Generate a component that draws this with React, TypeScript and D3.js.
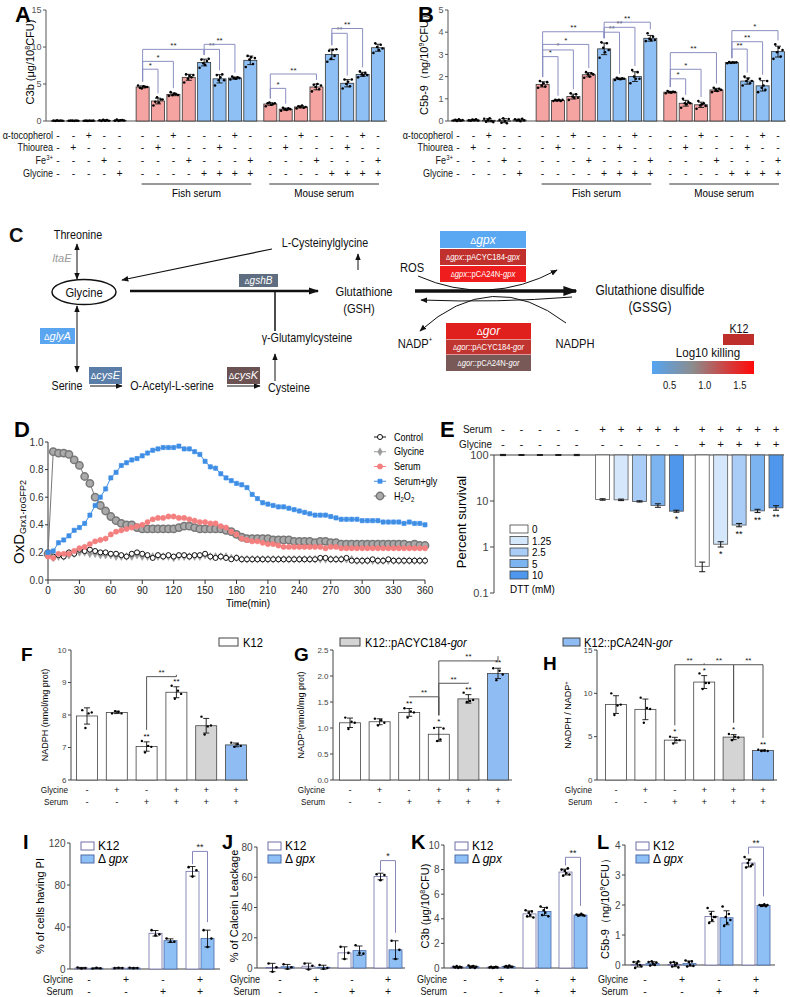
import React from 'react';
import * as d3 from 'd3';

const FONT = '"Liberation Sans", Arial, sans-serif';
const BOLD = '"Liberation Sans", Arial, sans-serif';
const PINK = '#f5a4a2';
const BLUE = '#8ec0f5';

// ---------- A / B : complement deposition ----------
const abGroup = [0, 0, 0, 0, 0, 1, 1, 1, 1, 1, 1, 1, 1, 2, 2, 2, 2, 2, 2, 2, 2];
const abGap = [0, 0.5, 0.8];
const tocoRow = [0, 0, 1, 0, 0, 0, 0, 1, 0, 0, 0, 1, 0, 0, 0, 1, 0, 0, 0, 1, 0];
const thioRow = [0, 1, 0, 0, 0, 0, 1, 0, 0, 0, 1, 0, 0, 0, 1, 0, 0, 0, 1, 0, 0];
const feRow = [0, 0, 0, 1, 0, 0, 0, 0, 1, 0, 0, 0, 1, 0, 0, 0, 1, 0, 0, 0, 1];
const glyRowAB = [0, 0, 0, 0, 1, 0, 0, 0, 0, 1, 1, 1, 1, 0, 0, 0, 0, 1, 1, 1, 1];

const c3bReps = [
  [0.05, 0.02, 0.08, 0.04, 0.06, 0.03], [0.03, 0.06, 0.05, 0.02, 0.07, 0.04],
  [0.04, 0.05, 0.02, 0.06, 0.03, 0.05], [0.1, 0.02, 0.15, 0.05, 0.12, 0.04],
  [0.05, 0.18, 0.02, 0.1, 0.12, 0.06],
  [4.8, 4.5, 4.4, 4.7, 4.6, 4.6], [2.1, 2.6, 3.2, 2.5, 2.9, 2.9],
  [3.4, 3.9, 3.5, 3.7, 3.6, 3.5], [5.2, 6.3, 5.7, 6.1, 5.9, 6.2],
  [7.2, 8.3, 7.8, 7.6, 8.1, 8.4], [4.8, 6.2, 5.5, 5.9, 6.3, 5.5],
  [5.6, 6.0, 5.8, 5.7, 5.9, 5.8], [7.3, 8.8, 8.3, 8.6, 7.7, 8.5],
  [2.0, 2.4, 2.5, 2.2, 2.3, 2.4], [1.4, 1.8, 1.6, 1.5, 1.7, 1.6],
  [1.7, 2.0, 1.9, 2.1, 1.8, 1.9], [4.0, 4.9, 4.6, 5.0, 4.3, 4.8],
  [8.0, 9.5, 8.4, 9.6, 8.8, 9.7], [4.4, 5.6, 5.0, 5.3, 4.7, 5.6],
  [5.9, 6.7, 6.3, 6.2, 6.5, 6.2], [9.2, 10.5, 10.0, 9.6, 10.3, 9.8],
];
const c5b9Reps = [
  [0.02, 0.05, 0.0, 0.08, 0.01, 0.04], [0.03, 0.01, 0.06, 0.04, 0.08, 0.02],
  [0.1, -0.03, 0.05, 0.12, 0.0, -0.05], [0.05, -0.08, 0.12, 0.0, -0.1, 0.09],
  [0.08, 0.02, 0.05, -0.01, 0.1, 0.03],
  [1.5, 1.8, 1.6, 1.7, 1.55, 1.75], [0.9, 0.95, 0.92, 0.96, 0.9, 0.95],
  [0.95, 1.25, 1.1, 1.05, 1.2, 1.05], [1.95, 2.2, 2.1, 2.0, 2.15, 2.1],
  [2.85, 3.55, 3.3, 3.1, 3.5, 3.2], [1.85, 1.95, 1.9, 1.88, 1.92, 1.9],
  [1.7, 2.3, 2.0, 1.9, 2.2, 1.9], [3.6, 3.95, 3.7, 3.65, 3.8, 3.65],
  [1.25, 1.35, 1.3, 1.28, 1.32, 1.3], [0.6, 1.0, 0.8, 0.75, 0.85, 0.8],
  [0.55, 0.9, 0.7, 0.75, 0.8, 0.68], [1.3, 1.5, 1.4, 1.35, 1.45, 1.4],
  [2.6, 2.65, 2.62, 2.64, 2.63, 2.64], [1.6, 2.0, 1.8, 1.9, 1.7, 1.8],
  [1.3, 1.9, 1.5, 1.6, 1.4, 1.8], [2.8, 3.45, 3.1, 3.3, 2.9, 3.2],
];
const sigA = [
  { a: 5, b: 6, at: 7.0, s: '*' }, { a: 5, b: 7, at: 8.06, s: '*' }, { a: 5, b: 9, at: 9.68, s: '**' },
  { a: 9, b: 10, at: 9.68, s: '**' }, { a: 9, b: 11, at: 10.36, s: '**' },
  { a: 13, b: 14, at: 4.41, s: '*' }, { a: 13, b: 16, at: 6.35, s: '**' },
  { a: 17, b: 18, at: 11.85, s: '**' }, { a: 17, b: 19, at: 12.5, s: '**' },
];
const sigB = [
  { a: 5, b: 6, at: 2.9, s: '*' }, { a: 5, b: 7, at: 3.2, s: '*' }, { a: 5, b: 8, at: 3.45, s: '*' },
  { a: 5, b: 9, at: 4.02, s: '**' }, { a: 9, b: 10, at: 4.0, s: '**' }, { a: 9, b: 11, at: 4.22, s: '**' },
  { a: 9, b: 12, at: 4.45, s: '**' }, { a: 13, b: 14, at: 1.9, s: '*' }, { a: 13, b: 15, at: 2.33, s: '*' },
  { a: 13, b: 16, at: 3.08, s: '**' }, { a: 17, b: 18, at: 3.24, s: '**' }, { a: 17, b: 19, at: 3.57, s: '**' },
  { a: 17, b: 20, at: 4.07, s: '*' },
];

// ---------- C : pathway heat legend ----------
const killTicks = [0.5, 1.0, 1.5];

// ---------- D : OxD time course ----------
const oxdTimes = d3.range(0, 361, 5);
const oxdTicks = d3.range(0, 361, 30);
const oxdControl = [0.20, 0.17, 0.18, 0.17, 0.20, 0.19, 0.22, 0.21, 0.22, 0.21, 0.20, 0.20, 0.19, 0.19, 0.18, 0.17, 0.19, 0.20, 0.19, 0.18, 0.16, 0.18, 0.17, 0.18, 0.17, 0.18, 0.18, 0.17, 0.18, 0.18, 0.19, 0.17, 0.16, 0.17, 0.16, 0.15, 0.16, 0.15, 0.15, 0.15, 0.15, 0.15, 0.15, 0.15, 0.15, 0.15, 0.15, 0.15, 0.15, 0.15, 0.15, 0.15, 0.16, 0.16, 0.15, 0.15, 0.15, 0.16, 0.14, 0.14, 0.14, 0.14, 0.15, 0.14, 0.14, 0.15, 0.14, 0.14, 0.14, 0.14, 0.14, 0.14, 0.14];
const oxdGlycine = [0.18, 0.16, 0.17, 0.17, 0.18, 0.19, 0.20, 0.20, 0.19, 0.19, 0.18, 0.18, 0.18, 0.17, 0.17, 0.17, 0.17, 0.18, 0.17, 0.17, 0.17, 0.17, 0.17, 0.17, 0.16, 0.17, 0.17, 0.17, 0.17, 0.17, 0.18, 0.17, 0.17, 0.17, 0.17, 0.16, 0.16, 0.15, 0.15, 0.15, 0.15, 0.15, 0.15, 0.15, 0.15, 0.15, 0.15, 0.15, 0.15, 0.15, 0.15, 0.15, 0.15, 0.15, 0.15, 0.15, 0.15, 0.15, 0.15, 0.14, 0.14, 0.14, 0.14, 0.14, 0.14, 0.14, 0.14, 0.14, 0.14, 0.14, 0.14, 0.14, 0.14];
const oxdSerum = [0.17, 0.16, 0.19, 0.19, 0.19, 0.21, 0.23, 0.24, 0.26, 0.28, 0.29, 0.30, 0.33, 0.35, 0.36, 0.37, 0.38, 0.39, 0.40, 0.42, 0.44, 0.45, 0.45, 0.46, 0.46, 0.45, 0.45, 0.44, 0.43, 0.42, 0.42, 0.41, 0.41, 0.39, 0.38, 0.35, 0.33, 0.30, 0.29, 0.28, 0.28, 0.27, 0.26, 0.26, 0.25, 0.24, 0.24, 0.24, 0.24, 0.24, 0.24, 0.24, 0.24, 0.23, 0.24, 0.24, 0.23, 0.23, 0.23, 0.23, 0.23, 0.23, 0.23, 0.23, 0.23, 0.23, 0.23, 0.23, 0.23, 0.23, 0.23, 0.23, 0.23];
const oxdSerumGly = [0.20, 0.21, 0.27, 0.29, 0.32, 0.36, 0.38, 0.41, 0.47, 0.54, 0.60, 0.66, 0.74, 0.78, 0.83, 0.85, 0.87, 0.88, 0.90, 0.92, 0.94, 0.95, 0.96, 0.96, 0.96, 0.97, 0.95, 0.95, 0.93, 0.91, 0.86, 0.82, 0.81, 0.77, 0.74, 0.72, 0.70, 0.69, 0.67, 0.62, 0.59, 0.56, 0.55, 0.54, 0.53, 0.53, 0.52, 0.51, 0.50, 0.49, 0.48, 0.47, 0.47, 0.47, 0.46, 0.45, 0.44, 0.44, 0.44, 0.44, 0.43, 0.43, 0.43, 0.43, 0.42, 0.42, 0.42, 0.42, 0.41, 0.42, 0.41, 0.41, 0.40];
const oxdH2O2 = [0.19, 0.93, 0.92, 0.92, 0.91, 0.87, 0.83, 0.75, 0.70, 0.60, 0.54, 0.50, 0.46, 0.43, 0.41, 0.40, 0.40, 0.38, 0.37, 0.37, 0.37, 0.37, 0.37, 0.37, 0.37, 0.38, 0.39, 0.39, 0.38, 0.37, 0.37, 0.37, 0.37, 0.37, 0.36, 0.35, 0.33, 0.31, 0.30, 0.30, 0.30, 0.30, 0.30, 0.29, 0.29, 0.29, 0.29, 0.28, 0.28, 0.28, 0.28, 0.27, 0.28, 0.28, 0.27, 0.27, 0.26, 0.26, 0.26, 0.26, 0.26, 0.26, 0.26, 0.26, 0.26, 0.26, 0.26, 0.26, 0.26, 0.25, 0.26, 0.25, 0.25];
const oxdNames = ['Control', 'Glycine', 'Serum', 'Serum+gly', 'H2O2'];
const oxdErr = [0.012, 0.015, 0.015, 0.018, 0.012];

// ---------- E : DTT survival ----------
const eGroup = [0, 0, 0, 0, 0, 1, 1, 1, 1, 1, 2, 2, 2, 2, 2];
const eGap = [0, 0.4, 0.8];
const dttLevels = ['0', '1.25', '2.5', '5', '10'];
const dttColors = ['#ffffff', '#d5e7fb', '#a9cdf6', '#7cb4f1', '#4e97ec'];
const survival = [100, 100, 100, 100, 100, 10.8, 10.6, 9.8, 8.0, 6.0, 0.38, 1.15, 3.0, 6.1, 7.1];
const survivalSd = [3, 2, 2, 2, 3, 0.4, 0.4, 0.3, 0.7, 0.3, 0.09, 0.15, 0.25, 0.5, 0.8];
const survivalStars = ['', '', '', '', '', '', '', '', '', '*', '', '*', '**', '**', '**'];
const eSerum = [0, 0, 0, 0, 0, 1, 1, 1, 1, 1, 1, 1, 1, 1, 1];
const eGly = [0, 0, 0, 0, 0, 0, 0, 0, 0, 0, 1, 1, 1, 1, 1];

// ---------- F / G / H : NADPH ----------
const fghGly = [0, 1, 0, 1, 1, 1];
const fghSerum = [0, 0, 1, 1, 1, 1];
const fghFills = ['#ffffff', '#ffffff', '#ffffff', '#ffffff', '#d4d4d4', '#8ebcf3'];
const nadphReps = [[8.15, 7.6, 8.05, 8.08], [8.05, 8.12, 8.1, 8.05], [7.2, 6.85, 7.05, 7.02], [8.9, 8.5, 8.75, 8.65], [7.95, 7.4, 7.65, 7.68], [7.15, 7.02, 7.1, 7.05]];
const nadpReps = [[1.2, 0.98, 1.12, 1.1], [1.18, 1.05, 1.15, 1.1], [1.38, 1.2, 1.32, 1.3], [1.0, 0.75, 0.78, 0.99], [1.68, 1.5, 1.52, 1.54], [2.15, 1.92, 2.1, 2.03]];
const ratioReps = [[10.0, 7.5, 8.6, 8.7], [9.5, 6.6, 8.3, 8.2], [5.0, 4.2, 4.6, 4.6], [12.3, 10.5, 11.2, 11.2], [5.3, 4.6, 5.0, 4.9], [3.5, 3.35, 3.4, 3.35]];
const nadphStars = ['', '', '**', '**', '', ''];
const nadpStars = ['', '', '**', '*', '**', '**'];
const ratioStars = ['', '', '*', '*', '*', '**'];
const nadphSig = [{ a: 2, b: 3, at: 9.18, s: '**' }];
const nadpSig = [{ a: 2, b: 3, at: 1.6, s: '**' }, { a: 3, b: 4, at: 1.86, s: '**' }, { a: 3, b: 5, at: 2.29, s: '**' }];
const ratioSig = [{ a: 2, b: 3, at: 13.3, s: '**' }, { a: 3, b: 4, at: 13.3, s: '**' }, { a: 4, b: 5, at: 13.3, s: '**' }];

// ---------- I - L : gpx ----------
const ilGly = [0, 1, 0, 1];
const ilSerum = [0, 0, 1, 1];
const piK12 = [[1.5, 0.5, 1.0], [0.8, 1.2, 1.0], [37, 32, 33], [97, 88, 94]];
const piGpx = [[0.5, 1.2, 0.7], [1.2, 0.8, 1.0], [29, 26, 26], [37, 21, 29]];
const calceinK12 = [[3, -2.5, 0.5], [3, -1, 1.5], [14, 6, 10], [62, 58, 61.5]];
const calceinGpx = [[2.5, -0.5, 0.5], [2, -0.5, 0], [15, 10, 9.5], [18, 6, 12]];
const c3bK12 = [[0.1, 0.05, 0.15, 0.0, 0.1, 0.05], [0.05, 0.1, 0.0, 0.05, 0.1, 0.05], [4.7, 4.2, 4.5, 4.3, 4.6, 4.1], [8.0, 7.5, 7.9, 7.7, 8.1, 7.6]];
const c3bGpx = [[0.2, 0.05, 0.1, 0.15, 0.0, 0.1], [0.1, 0.15, 0.05, 0.2, 0.1, 0.1], [5.0, 4.3, 4.7, 4.5, 4.9, 4.2], [4.35, 4.25, 4.3, 4.4, 4.3, 4.25]];
const c5bK12 = [[0.1, -0.1, 0.05, 0.12, 0.0, -0.05], [0.08, -0.05, 0.1, 0.0, 0.05, -0.08], [1.9, 1.4, 1.7, 1.5, 1.6, 1.6], [3.6, 3.25, 3.4, 3.5, 3.3, 3.35]];
const c5bGpx = [[0.1, -0.02, 0.12, 0.05, 0.0, 0.08], [0.15, -0.05, 0.1, 0.0, 0.12, -0.03], [1.95, 1.3, 1.6, 1.4, 1.7, 1.5], [2.0, 1.97, 1.98, 2.02, 1.96, 2.0]];

// ---------------- helpers ----------------
const mean = (r: number[]) => d3.mean(r) as number;
const sd = (r: number[]) => d3.deviation(r) || 0;

// narrow text (the figure uses a condensed face)
function NT({ x, y, sx = 0.86, children, ...rest }: any) {
  return <text transform={`translate(${x},${y}) scale(${sx},1)`} {...rest}>{children}</text>;
}

function YAxis({ x, y, ticks, fmt = (t: number) => String(t), len = 3, fs = 9, color = '#555' }: any) {
  const [r0, r1] = y.range();
  return (
    <g>
      <line x1={x} x2={x} y1={r0} y2={r1} stroke={color} strokeWidth={1} />
      {ticks.map((t: number) => (
        <g key={t}>
          <line x1={x - len} x2={x} y1={y(t)} y2={y(t)} stroke={color} />
          <text x={x - len - 1.5} y={y(t)} dy="0.35em" textAnchor="end" fontSize={fs} fill={color}>{fmt(t)}</text>
        </g>
      ))}
    </g>
  );
}

function RepBars({ xs, reps, y, base, width, fills, stroke = '#222', dotR = 1.3, spread = 0.7 }: any) {
  return (
    <g>
      {reps.map((r: number[], i: number) => {
        const m = mean(r), s = sd(r), x = xs[i];
        const t = y(m), b = y(base), n = r.length;
        const step = n > 1 ? (width * spread) / (n - 1) : 0;
        return (
          <g key={i}>
            <rect x={x - width / 2} y={Math.min(t, b)} width={width} height={Math.max(0.6, Math.abs(b - t))} fill={fills[i]} stroke={stroke} strokeWidth={0.8} />
            <line x1={x} x2={x} y1={y(m - s)} y2={y(m + s)} stroke="#111" strokeWidth={0.9} />
            <line x1={x - 3} x2={x + 3} y1={y(m + s)} y2={y(m + s)} stroke="#111" strokeWidth={0.9} />
            <line x1={x - 3} x2={x + 3} y1={y(m - s)} y2={y(m - s)} stroke="#111" strokeWidth={0.9} />
            {r.map((v, k) => (
              <circle key={k} cx={x + (k - (n - 1) / 2) * step} cy={y(v)} r={dotR} fill="#000" />
            ))}
          </g>
        );
      })}
    </g>
  );
}

function Bracket({ x1, x2, yl, yb1, yb2, label, color = '#8a8fc2', fs = 8 }: any) {
  return (
    <g>
      <path d={`M${x1},${yb1}V${yl}H${x2}V${yb2}`} fill="none" stroke={color} strokeWidth={1} />
      <text x={(x1 + x2) / 2} y={yl - 1.5} textAnchor="middle" fontSize={fs} fill="#222">{label}</text>
    </g>
  );
}

function SignRow({ xs, signs, y, label, labelX, fs = 10 }: any) {
  return (
    <g fontSize={fs} fill="#111">
      <NT x={labelX} y={y} dy="0.35em" textAnchor="end">{label}</NT>
      {signs.map((s: number, i: number) => (
        <text key={i} x={xs[i]} y={y} dy="0.35em" textAnchor="middle">{s ? '+' : '-'}</text>
      ))}
    </g>
  );
}

function Letter({ x, y, t, fs = 20 }: any) {
  return <text x={x} y={y} fontSize={fs} fontWeight="bold" fontFamily={BOLD}>{t}</text>;
}

// ---------------- panels ----------------
function ComplementPanel({ reps, sig, range, domainMax, ticks, axisX, axisEnd, ylabel, ylabelX, letter, letterX }: any) {
  const slots = abGroup.map((g, i) => i + abGap[g]);
  const x = d3.scaleLinear().domain([0, 20.8]).range(range);
  const xs = slots.map((s) => x(s));
  const y = d3.scaleLinear().domain([0, domainMax]).range([121, 10]);
  const fills = abGroup.map((g, i) => (g === 0 ? '#ffffff' : glyRowAB[i] ? BLUE : PINK));
  const top = (i: number) => y(d3.max(reps[i]) as number) - 4;
  const lab = xs[0] - 5;
  return (
    <g>
      <Letter x={letterX} y={22} t={letter} fs={22} />
      <YAxis x={axisX} y={y} ticks={ticks} fs={9} />
      <line x1={axisX} x2={axisEnd} y1={y(0)} y2={y(0)} stroke="#555" />
      <RepBars xs={xs} reps={reps} y={y} base={0} width={13} fills={fills} stroke="#333" dotR={1.3} />
      {sig.map((s: any, k: number) => (
        <Bracket key={k} x1={xs[s.a]} x2={xs[s.b]} yl={y(s.at)} yb1={top(s.a)} yb2={top(s.b)} label={s.s} />
      ))}
      <NT x={ylabelX} y={62} sx={1} transform={`translate(${ylabelX},62) rotate(-90)`} textAnchor="middle" fontSize={11}>{ylabel}</NT>
      <SignRow xs={xs} signs={tocoRow} y={135} label="α-tocopherol" labelX={lab} fs={10.5} />
      <SignRow xs={xs} signs={thioRow} y={147} label="Thiourea" labelX={lab} fs={10.5} />
      <SignRow xs={xs} signs={feRow} y={160} label={<><tspan>Fe</tspan><tspan dy={-4} fontSize={7}>3+</tspan></>} labelX={lab} fs={10.5} />
      <SignRow xs={xs} signs={glyRowAB} y={173} label="Glycine" labelX={lab} fs={10.5} />
      <line x1={xs[5] - 1} x2={xs[12] + 1} y1={184} y2={184} stroke="#333" />
      <line x1={xs[13] - 1} x2={xs[20] + 1} y1={184} y2={184} stroke="#333" />
      <NT x={(xs[5] + xs[12]) / 2} y={197} textAnchor="middle" fontSize={11.5}>Fish serum</NT>
      <NT x={(xs[13] + xs[20]) / 2} y={197} textAnchor="middle" fontSize={11.5}>Mouse serum</NT>
    </g>
  );
}

function PanelC() {
  const kx = d3.scaleLinear().domain([0.25, 1.7]).range([652, 754]);
  const geneBox = (x: number, y: number, w: number, h: number, fill: string, gene: string, fs: number) => (
    <g>
      <rect x={x} y={y} width={w} height={h} fill={fill} />
      <text x={x + w / 2} y={y + h / 2} dy="0.35em" textAnchor="middle" fontSize={fs} fill="#fff">
        <tspan fontSize={fs * 0.75}>Δ</tspan><tspan fontStyle="italic">{gene}</tspan>
      </text>
    </g>
  );
  const plasmidBox = (x: number, y: number, w: number, h: number, fill: string, gene: string, plasmid: string, fs: number) => (
    <g>
      <rect x={x} y={y} width={w} height={h} fill={fill} />
      <NT x={x + w / 2} y={y + h / 2} sx={0.9} dy="0.35em" textAnchor="middle" fontSize={fs} fill="#fff">
        <tspan fontSize={fs * 0.8}>Δ</tspan><tspan fontStyle="italic">{gene}</tspan><tspan>{`::${plasmid}-`}</tspan><tspan fontStyle="italic">{gene}</tspan>
      </NT>
    </g>
  );
  return (
    <g fontSize={12.5} fill="#111">
      <Letter x={9} y={242} t="C" fs={20} />
      <NT x={78} y={239} textAnchor="middle">Threonine</NT>
      <line x1={77} y1={244} x2={77} y2={279} stroke="#111" markerStart="url(#ah)" markerEnd="url(#ah)" />
      <text x={62} y={262} textAnchor="middle" fontStyle="italic" fill="#999" fontSize={11}>ltaE</text>
      <ellipse cx={84} cy={292} rx={32} ry={12.5} fill="none" stroke="#111" strokeWidth={1.5} />
      <NT x={84} y={296.5} textAnchor="middle" fontSize={13}>Glycine</NT>
      <line x1={77} y1={306} x2={77} y2={372} stroke="#111" markerStart="url(#ah)" markerEnd="url(#ah)" />
      {geneBox(40, 328, 35, 16, '#5aa5f0', 'glyA', 11)}
      <NT x={67} y={390} textAnchor="middle">Serine</NT>
      <line x1={90} y1={386} x2={122} y2={386} stroke="#111" markerEnd="url(#ah)" />
      {geneBox(89, 367, 33, 17, '#5b7ea8', 'cysE', 11)}
      <NT x={172} y={390} textAnchor="middle">O-Acetyl-L-serine</NT>
      <line x1={227} y1={386} x2={260} y2={386} stroke="#111" markerEnd="url(#ah)" />
      {geneBox(227, 367, 33, 17, '#6c5353', 'cysK', 11)}
      <NT x={289} y={392} textAnchor="middle">Cysteine</NT>
      <line x1={275} y1={381} x2={275} y2={354} stroke="#111" markerEnd="url(#ah)" />
      <NT x={307} y={342} textAnchor="middle">γ-Glutamylcysteine</NT>
      <line x1={275} y1={331} x2={275} y2={291} stroke="#111" strokeWidth={1.5} />
      <line x1={130} y1={291} x2={318} y2={291} stroke="#111" strokeWidth={2.5} markerEnd="url(#ahM)" />
      {geneBox(239, 274, 39, 13, '#5f6d80', 'gshB', 10)}
      <NT x={364} y={296} textAnchor="middle" fontSize={13}>Glutathione</NT>
      <NT x={359} y={313} textAnchor="middle" fontSize={13}>(GSH)</NT>
      <line x1={358} y1={270} x2={358} y2={254} stroke="#111" markerEnd="url(#ah)" />
      <NT x={325} y={247} textAnchor="middle">L-Cysteinylglycine</NT>
      <line x1={272} y1={249} x2={122} y2={280} stroke="#111" strokeWidth={1.2} markerEnd="url(#ah)" />
      <line x1={415} y1={291} x2={576} y2={291} stroke="#111" strokeWidth={3.5} markerEnd="url(#ahB)" />
      <NT x={412} y={272} textAnchor="middle" fontSize={13}>ROS</NT>
      <path d="M418,276 Q488,307 557,270" fill="none" stroke="#111" markerEnd="url(#ah)" />
      <path d="M566,323 Q492,266 420,331" fill="none" stroke="#111" markerEnd="url(#ah)" />
      <path d="M572,297 Q497,303 421,300" fill="none" stroke="#111" markerEnd="url(#ah)" />
      {geneBox(440, 231, 86, 17, '#5aa8f2', 'gpx', 12)}
      {plasmidBox(440, 249, 86, 16, '#c0312d', 'gpx', 'pACYC184', 8.5)}
      {plasmidBox(440, 266, 86, 16, '#ef1d1d', 'gpx', 'pCA24N', 8.5)}
      {geneBox(446, 323, 85, 16, '#df201c', 'gor', 12)}
      {plasmidBox(446, 339.5, 85, 15, '#c13531', 'gor', 'pACYC184', 8.5)}
      {plasmidBox(446, 355, 85, 16, '#785958', 'gor', 'pCA24N', 8.5)}
      <NT x={415} y={348} textAnchor="middle" fontSize={13}>NADP<tspan dy={-6} fontSize={7}>+</tspan></NT>
      <NT x={575} y={348} textAnchor="middle" fontSize={13}>NADPH</NT>
      <NT x={650} y={295} textAnchor="middle" fontSize={14}>Glutathione disulfide</NT>
      <NT x={650} y={312} textAnchor="middle" fontSize={14}>(GSSG)</NT>
      <NT x={739} y={333} textAnchor="middle" fontSize={12.5}>K12</NT>
      <rect x={723} y={334} width={31} height={11} fill="#be2e2b" />
      <NT x={708} y={357} textAnchor="middle" fontSize={13.5}>Log10 killing</NT>
      <rect x={652} y={361} width={102} height={13} fill="url(#killGrad)" />
      {killTicks.map((t) => (
        <NT key={t} x={kx(t)} y={389} textAnchor="middle" fontSize={11}>{t.toFixed(1)}</NT>
      ))}
    </g>
  );
}

function PanelD() {
  const x = d3.scaleLinear().domain([0, 360]).range([48, 425]);
  const y = d3.scaleLinear().domain([0, 1]).range([580, 442]);
  const series = [oxdControl, oxdGlycine, oxdSerum, oxdSerumGly, oxdH2O2];
  const styles = [
    { line: '#111', fill: '#fff', stroke: '#111', type: d3.symbolCircle, size: 20, sw: 1 },
    { line: '#9a9a9a', fill: '#9a9a9a', stroke: '#9a9a9a', type: d3.symbolDiamond, size: 18, sw: 0.5 },
    { line: '#f28080', fill: '#f47f7f', stroke: '#f47f7f', type: d3.symbolCircle, size: 22, sw: 0.5 },
    { line: '#3f8ee6', fill: '#3f8ee6', stroke: '#3f8ee6', type: d3.symbolSquare, size: 18, sw: 0.5 },
    { line: '#777', fill: '#aaa', stroke: '#777', type: d3.symbolCircle, size: 42, sw: 1.5 },
  ];
  const order = [1, 0, 4, 2, 3];
  const line = d3.line<number>().x((_, i) => x(oxdTimes[i])).y((v) => y(v));
  const legY = d3.scaleLinear().domain([0, 4]).range([437, 496]);
  return (
    <g>
      <Letter x={14} y={437} t="D" fs={22} />
      <YAxis x={48} y={y} ticks={[0, 0.2, 0.4, 0.6, 0.8, 1.0]} fmt={(t: number) => t.toFixed(1)} fs={10} color="#333" />
      <line x1={48} x2={425} y1={580} y2={580} stroke="#333" />
      {oxdTicks.map((t) => (
        <g key={t}>
          <line x1={x(t)} x2={x(t)} y1={580} y2={584} stroke="#333" />
          <text x={x(t)} y={594} textAnchor="middle" fontSize={10} fill="#222">{t}</text>
        </g>
      ))}
      <NT x={248} y={607} textAnchor="middle" fontSize={11.5}>Time(min)</NT>
      <text transform="translate(24,522) rotate(-90)" textAnchor="middle" fontSize={15}>OxD<tspan fontSize={9} dy={2}>Grx1-roGFP2</tspan></text>
      {order.map((si) => {
        const st = styles[si];
        const sym = d3.symbol().type(st.type).size(st.size)() as string;
        return (
          <g key={si}>
            <path d={line(series[si]) as string} fill="none" stroke={st.line} strokeWidth={1} />
            {series[si].map((v, i) => (
              <g key={i}>
                <line x1={x(oxdTimes[i])} x2={x(oxdTimes[i])} y1={y(v - oxdErr[si])} y2={y(v + oxdErr[si])} stroke={st.line} strokeWidth={0.8} />
                <path d={sym} transform={`translate(${x(oxdTimes[i])},${y(v)})`} fill={st.fill} stroke={st.stroke} strokeWidth={st.sw} />
              </g>
            ))}
          </g>
        );
      })}
      {oxdNames.map((n, i) => {
        const st = styles[i];
        const sym = d3.symbol().type(st.type).size(st.size)() as string;
        return (
          <g key={n}>
            <line x1={374} x2={386} y1={legY(i)} y2={legY(i)} stroke={st.line} />
            <path d={sym} transform={`translate(380,${legY(i)})`} fill={st.fill} stroke={st.stroke} strokeWidth={st.sw} />
            <NT x={394} y={legY(i)} dy="0.35em" fontSize={10.5}>
              {n === 'H2O2' ? <>H<tspan fontSize={7} dy={2}>2</tspan><tspan dy={-2}>O</tspan><tspan fontSize={7} dy={2}>2</tspan></> : n}
            </NT>
          </g>
        );
      })}
    </g>
  );
}

function PanelE() {
  const slots = eGroup.map((g, i) => i + eGap[g]);
  const x = d3.scaleLinear().domain([0, 14.8]).range([503, 776]);
  const xs = slots.map((s) => x(s));
  const y = d3.scaleLog().domain([0.1, 100]).range([593, 455]);
  const legY = d3.scaleLinear().domain([0, 4]).range([529, 575]);
  return (
    <g>
      <Letter x={440} y={437} t="E" fs={22} />
      <YAxis x={494} y={y} ticks={[0.1, 1, 10, 100]} fs={11} color="#444" len={4} />
      <line x1={494} x2={784} y1={y(100)} y2={y(100)} stroke="#444" />
      {survival.map((v, i) => {
        const c = xs[i], lo = v - survivalSd[i], hi = v + survivalSd[i];
        return (
          <g key={i}>
            {eGroup[i] > 0 && <rect x={c - 7} y={y(100)} width={14} height={y(v) - y(100)} fill={dttColors[i % 5]} stroke="#555" strokeWidth={0.8} />}
            <line x1={c} x2={c} y1={y(lo)} y2={y(hi)} stroke="#111" />
            <line x1={c - 3} x2={c + 3} y1={y(lo)} y2={y(lo)} stroke="#111" />
            <line x1={c - 3} x2={c + 3} y1={y(hi)} y2={y(hi)} stroke="#111" />
            {survivalStars[i] && <text x={c} y={y(lo) + 10} textAnchor="middle" fontSize={9}>{survivalStars[i]}</text>}
          </g>
        );
      })}
      <SignRow xs={xs} signs={eSerum} y={429} label="Serum" labelX={492} fs={11.5} />
      <SignRow xs={xs} signs={eGly} y={444} label="Glycine" labelX={492} fs={11.5} />
      <NT x={466} y={522} sx={1} transform="translate(466,522) rotate(-90)" textAnchor="middle" fontSize={13}>Percent survival</NT>
      {dttLevels.map((d, i) => (
        <g key={d}>
          <rect x={510} y={legY(i) - 4} width={18} height={8} fill={dttColors[i]} stroke="#444" strokeWidth={0.8} />
          <NT x={532} y={legY(i)} dy="0.35em" fontSize={11.5}>{d}</NT>
        </g>
      ))}
      <NT x={510} y={593} fontSize={11.5}>DTT (mM)</NT>
    </g>
  );
}

function NadPanel({ reps, stars, sig, range, domain, ticks, fmt, axisX, axisEnd, ylabel, ylabelX, letter, letterX, letterY, labelX }: any) {
  const x = d3.scaleLinear().domain([0, 5]).range(range);
  const xs = fghGly.map((_, i) => x(i));
  const y = d3.scaleLinear().domain(domain).range([780, 650]);
  const topOf = (i: number) => y(mean(reps[i]) + sd(reps[i]));
  const legTop = (i: number) => topOf(i) - (stars[i] ? 12 : 3);
  return (
    <g>
      <Letter x={letterX} y={letterY} t={letter} fs={19} />
      <YAxis x={axisX} y={y} ticks={ticks} fmt={fmt} fs={8} color="#444" />
      <line x1={axisX} x2={axisEnd} y1={780} y2={780} stroke="#444" />
      <RepBars xs={xs} reps={reps} y={y} base={domain[0]} width={21} fills={fghFills} stroke="#444" dotR={1.2} spread={0.45} />
      {stars.map((s: string, i: number) => s && (
        <text key={i} x={xs[i]} y={topOf(i) - 3} textAnchor="middle" fontSize={8}>{s}</text>
      ))}
      {sig.map((s: any, k: number) => (
        <Bracket key={k} x1={xs[s.a]} x2={xs[s.b]} yl={y(s.at)} yb1={legTop(s.a)} yb2={legTop(s.b)} label={s.s} color="#555" />
      ))}
      <text transform={`translate(${ylabelX},715) rotate(-90)`} textAnchor="middle" fontSize={9}>{ylabel}</text>
      <SignRow xs={xs} signs={fghGly} y={790} label="Glycine" labelX={labelX} fs={9.5} />
      <SignRow xs={xs} signs={fghSerum} y={802} label="Serum" labelX={labelX} fs={9.5} />
    </g>
  );
}

function GpxPanel({ k12, gpx, centers, domain, ticks, axisX, axisEnd, bottom, top, ylabel, ylabelX, letter, letterX, sigAt, sigLabel }: any) {
  const x = d3.scaleLinear().domain([0, 3]).range(centers);
  const cs = ilGly.map((_, i) => x(i));
  const y = d3.scaleLinear().domain(domain).range([bottom, top]);
  const xsK = cs.map((c) => c - 7.5), xsG = cs.map((c) => c + 7.5);
  const tK = y(d3.max(k12[3]) as number) - 3, tG = y(d3.max(gpx[3]) as number) - 8;
  return (
    <g>
      <Letter x={letterX} y={849} t={letter} fs={20} />
      <YAxis x={axisX} y={y} ticks={ticks} fs={10} color="#444" />
      <line x1={axisX} x2={axisEnd} y1={y(0)} y2={y(0)} stroke="#444" />
      <RepBars xs={xsK} reps={k12} y={y} base={0} width={13} fills={k12.map(() => '#ffffff')} stroke="#6f6fa6" dotR={1.3} spread={0.6} />
      <RepBars xs={xsG} reps={gpx} y={y} base={0} width={13} fills={gpx.map(() => BLUE)} stroke="#4d6aa8" dotR={1.3} spread={0.6} />
      <Bracket x1={xsK[3]} x2={xsG[3]} yl={y(sigAt)} yb1={tK} yb2={tG} label={sigLabel} color="#8686bb" fs={9} />
      <NT x={ylabelX} y={906} sx={1} transform={`translate(${ylabelX},906) rotate(-90)`} textAnchor="middle" fontSize={11}>{ylabel}</NT>
      <rect x={axisX + 11} y={842} width={13} height={8} fill="#fff" stroke="#6f6fa6" />
      <text x={axisX + 28} y={846} dy="0.35em" fontSize={12}>K12</text>
      <rect x={axisX + 11} y={855} width={13} height={8} fill={BLUE} stroke="#4d6aa8" />
      <text x={axisX + 28} y={859} dy="0.35em" fontSize={12}>Δ <tspan fontStyle="italic">gpx</tspan></text>
      <SignRow xs={cs} signs={ilGly} y={979} label="Glycine" labelX={axisX + 3} fs={10.5} />
      <SignRow xs={cs} signs={ilSerum} y={991} label="Serum" labelX={axisX + 3} fs={10.5} />
    </g>
  );
}

export default function App() {
  return (
    <svg width={790} height={997} style={{ position: 'absolute', left: 0, top: 0, background: '#fff' }} fontFamily={FONT}>
      <defs>
        <marker id="ah" viewBox="0 0 10 10" refX="9" refY="5" markerWidth="7" markerHeight="7" markerUnits="userSpaceOnUse" orient="auto-start-reverse">
          <path d="M0,1L10,5L0,9z" fill="#111" />
        </marker>
        <marker id="ahM" viewBox="0 0 10 10" refX="9" refY="5" markerWidth="10" markerHeight="10" markerUnits="userSpaceOnUse" orient="auto">
          <path d="M0,1.5L10,5L0,8.5z" fill="#111" />
        </marker>
        <marker id="ahB" viewBox="0 0 10 10" refX="9" refY="5" markerWidth="14" markerHeight="14" markerUnits="userSpaceOnUse" orient="auto">
          <path d="M0,1.5L10,5L0,8.5z" fill="#111" />
        </marker>
        <linearGradient id="killGrad" x1="0" x2="1" y1="0" y2="0">
          <stop offset="0%" stopColor="#55a4f2" />
          <stop offset="40%" stopColor="#8c8c8c" />
          <stop offset="75%" stopColor="#d43c3c" />
          <stop offset="100%" stopColor="#ff0a0a" />
        </linearGradient>
      </defs>
      <ComplementPanel reps={c3bReps} sig={sigA} range={[58, 378]} domainMax={15} ticks={[0, 5, 10, 15]} axisX={46} axisEnd={387}
        ylabel={<>C3b (μg/10<tspan dy={-4} fontSize={7}>8</tspan><tspan dy={4}>CFU)</tspan></>} ylabelX={34} letter="A" letterX={15} />
      <ComplementPanel reps={c5b9Reps} sig={sigB} range={[458, 778]} domainMax={5} ticks={[0, 1, 2, 3, 4, 5]} axisX={448} axisEnd={786}
        ylabel={<>C5b-9（ng/10<tspan dy={-4} fontSize={7}>9</tspan><tspan dy={4}>CFU）</tspan></>} ylabelX={428} letter="B" letterX={418} />
      <PanelC />
      <PanelD />
      <PanelE />
      <g fontSize={13}>
        <rect x={219} y={638} width={19} height={8} fill="#fff" stroke="#444" />
        <NT x={243} y={642} dy="0.35em">K12</NT>
        <rect x={340} y={638} width={20} height={8} fill="#d4d4d4" stroke="#444" />
        <NT x={365} y={642} dy="0.35em">K12::pACYC184-<tspan fontStyle="italic">gor</tspan></NT>
        <rect x={563} y={638} width={17} height={8} fill="#8ebcf3" stroke="#444" />
        <NT x={584} y={642} dy="0.35em">K12::pCA24N-<tspan fontStyle="italic">gor</tspan></NT>
      </g>
      <NadPanel reps={nadphReps} stars={nadphStars} sig={nadphSig} range={[87, 236]} domain={[6, 10]} ticks={[6, 7, 8, 9, 10]} fmt={String}
        axisX={71} axisEnd={248} ylabel="NADPH (nmol/mg prot)" ylabelX={48} letter="F" letterX={21} letterY={661} labelX={68} />
      <NadPanel reps={nadpReps} stars={nadpStars} sig={nadpSig} range={[350, 498]} domain={[0, 2.5]} ticks={[0, 0.5, 1, 1.5, 2, 2.5]} fmt={(t: number) => t.toFixed(1)}
        axisX={333} axisEnd={512} ylabel={<>NADP<tspan dy={-3} fontSize={6}>+</tspan><tspan dy={3}>(nmol/mg prot)</tspan></>} ylabelX={304} letter="G" letterX={294} letterY={661} labelX={325} />
      <NadPanel reps={ratioReps} stars={ratioStars} sig={ratioSig} range={[616, 763]} domain={[0, 15]} ticks={[0, 5, 10, 15]} fmt={String}
        axisX={597} axisEnd={777} ylabel={<>NADPH / NADP<tspan dy={-3} fontSize={6}>+</tspan></>} ylabelX={571} letter="H" letterX={543} letterY={670} labelX={592} />
      <GpxPanel k12={piK12} gpx={piGpx} centers={[89, 200]} domain={[0, 120]} ticks={[0, 40, 80, 120]} axisX={70} axisEnd={220}
        bottom={969} top={843} ylabel="% of cells having PI" ylabelX={44} letter="I" letterX={23} sigAt={112} sigLabel="**" />
      <GpxPanel k12={calceinK12} gpx={calceinGpx} centers={[280, 388]} domain={[0, 80]} ticks={[0, 20, 40, 60, 80]} axisX={257} axisEnd={405}
        bottom={968} top={847} ylabel="% of Calcein Leackage" ylabelX={238} letter="J" letterX={222} sigAt={71} sigLabel="*" />
      <GpxPanel k12={c3bK12} gpx={c3bGpx} centers={[465, 573]} domain={[0, 10]} ticks={[0, 2, 4, 6, 8, 10]} axisX={444} axisEnd={588}
        bottom={968} top={845} ylabel={<>C3b (μg/10<tspan dy={-4} fontSize={7}>8</tspan><tspan dy={4}>CFU)</tspan></>} ylabelX={429} letter="K" letterX={411} sigAt={9.0} sigLabel="**" />
      <GpxPanel k12={c5bK12} gpx={c5bGpx} centers={[645, 756]} domain={[0, 4]} ticks={[0, 1, 2, 3, 4]} axisX={625} axisEnd={775}
        bottom={965} top={845} ylabel={<>C5b-9（ng/10<tspan dy={-4} fontSize={7}>9</tspan><tspan dy={4}>CFU）</tspan></>} ylabelX={609} letter="L" letterX={597} sigAt={3.93} sigLabel="**" />
    </svg>
  );
}
